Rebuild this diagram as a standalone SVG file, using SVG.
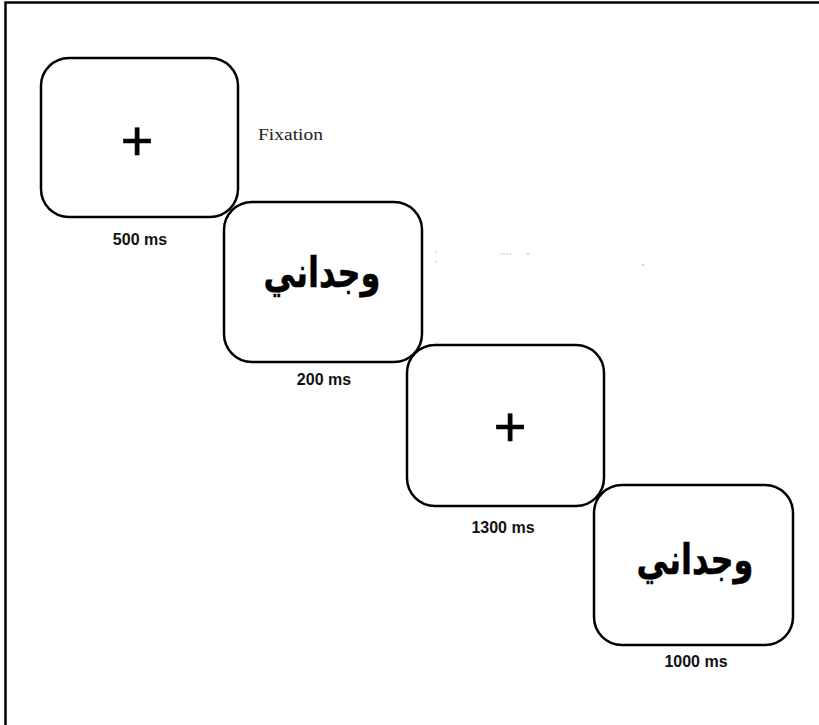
<svg xmlns="http://www.w3.org/2000/svg" width="819" height="725" viewBox="0 0 819 725">
  <style>
    .screen { fill: #fff; stroke: #000; stroke-width: 2.5; }
    .dur { font-family: "Liberation Sans", Arial, sans-serif; font-weight: bold; font-size: 16px; fill: #111; text-anchor: middle; }
    .cross { font-family: "Liberation Sans", Arial, sans-serif; font-size: 56px; fill: #000; stroke: #000; stroke-width: 0.7; text-anchor: middle; }
    .word { font-family: "DejaVu Sans", sans-serif; font-weight: bold; font-size: 32px; fill: #000; stroke: #000; stroke-width: 0.4; text-anchor: middle; }
    .note { font-family: "Liberation Serif", "Times New Roman", serif; font-size: 17.5px; fill: #222; }
    .speck { fill: #bbb; }
  </style>
  <rect width="819" height="725" fill="#fff"/>
  <!-- frame lines -->
  <path d="M5.5 725 V2.5 H819" fill="none" stroke="#000" stroke-width="2.5"/>

  <g id="fixation1">
    <rect class="screen" x="41" y="58" width="197" height="159" rx="28"/>
    <text class="cross" x="137" y="160">+</text>
    <text class="dur" x="140" y="245">500 ms</text>
  </g>
  <text class="note" x="258" y="140" textLength="65" lengthAdjust="spacingAndGlyphs">Fixation</text>

  <g id="word1">
    <rect class="screen" x="224" y="202" width="198" height="160" rx="28"/>
    <text class="word" transform="translate(322 287) scale(1 1.3)" direction="rtl">وجداني</text>
    <text class="dur" x="324" y="385">200 ms</text>
  </g>

  <g id="fixation2">
    <rect class="screen" x="407" y="345" width="197" height="161" rx="28"/>
    <text class="cross" x="510" y="446">+</text>
    <text class="dur" x="503" y="533">1300 ms</text>
  </g>

  <g id="word2">
    <rect class="screen" x="594" y="485" width="199" height="160" rx="28"/>
    <text class="word" transform="translate(695 574) scale(1 1.3)" direction="rtl">وجداني</text>
    <text class="dur" x="696" y="667">1000 ms</text>
  </g>

  <!-- faint specks between the screens -->
  <g id="specks">
    <circle class="speck" cx="436" cy="252" r="0.8"/>
    <circle class="speck" cx="436" cy="262" r="0.8"/>
    <circle class="speck" cx="501" cy="254" r="0.8"/>
    <circle class="speck" cx="504" cy="254" r="0.8"/>
    <circle class="speck" cx="507" cy="254" r="0.8"/>
    <circle class="speck" cx="510" cy="254" r="0.8"/>
    <circle class="speck" cx="528" cy="254" r="0.9"/>
    <circle class="speck" cx="643" cy="265" r="0.9"/>
  </g>

  <g id="connectors"/>
</svg>
